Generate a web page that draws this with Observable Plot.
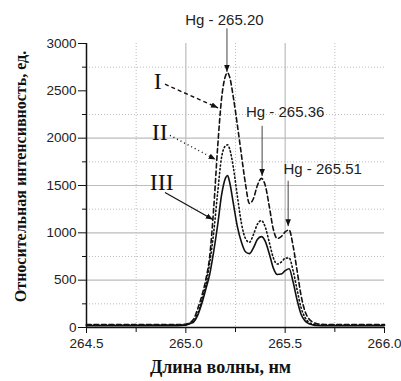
<!DOCTYPE html>
<html><head><meta charset="utf-8">
<script src="https://cdn.jsdelivr.net/npm/d3@7"></script>
<script src="https://cdn.jsdelivr.net/npm/@observablehq/plot@0.6"></script>
<style>body{margin:0;background:#fff}</style>
</head><body><div id="chart"></div>
<script>
// Wavelength, nm
const wavelength = [264.50, 264.80, 264.96, 265.00, 265.02, 265.04, 265.06, 265.08, 265.10, 265.12,
  265.14, 265.16, 265.18, 265.20, 265.21, 265.22, 265.24, 265.26, 265.28, 265.30,
  265.32, 265.34, 265.36, 265.38, 265.40, 265.42, 265.44, 265.46, 265.48, 265.50,
  265.52, 265.54, 265.56, 265.58, 265.60, 265.62, 265.64, 265.66, 265.70, 265.80, 266.00];
// Curve I (dashed)
const intensityI = [30, 30, 30, 35, 50, 90, 200, 330, 500, 750,
  1250, 1900, 2420, 2660, 2690, 2650, 2420, 2130, 1820, 1520,
  1310, 1360, 1500, 1575, 1500, 1280, 1040, 940, 960, 1010,
  1030, 860, 600, 340, 170, 90, 55, 40, 32, 30, 30];
// Curve II (dotted)
const intensityII = [25, 25, 25, 30, 45, 70, 150, 280, 440, 680,
  1000, 1420, 1800, 1920, 1930, 1890, 1680, 1380, 1100, 940,
  900, 980, 1090, 1130, 1060, 900, 740, 670, 690, 730,
  735, 600, 400, 210, 105, 55, 35, 28, 25, 25, 25];
// Curve III (solid)
const intensityIII = [20, 20, 20, 25, 40, 60, 130, 250, 400, 560,
  800, 1080, 1400, 1580, 1605, 1540, 1300, 1060, 900, 800,
  780, 840, 930, 960, 910, 780, 630, 560, 565, 600,
  620, 480, 290, 140, 70, 40, 28, 22, 20, 20, 20];

const xMajorTicks = [264.5, 265.0, 265.5, 266.0];
const xMinorTicks = [264.75, 265.25, 265.75];
const yMajorTicks = [0, 500, 1000, 1500, 2000, 2500, 3000];
const yMinorTicks = [250, 750, 1250, 1750, 2250, 2750];
const xGridSolid = [265.0, 265.5];
const yGridSolid = [500, 1000, 1500, 2000];

const peakLabels = ["Hg - 265.20", "Hg - 265.36", "Hg - 265.51"];
const curveLabels = ["I", "II", "III"];

// annotation placement (data units)
const peakAnn = [
  {label: peakLabels[0], tx: 265.194, ty: 3250, ax: 265.207, ay1: 3160, ay2: 2700},
  {label: peakLabels[1], tx: 265.50, ty: 2270, ax: 265.384, ay1: 2130, ay2: 1600},
  {label: peakLabels[2], tx: 265.689, ty: 1670, ax: 265.515, ay1: 1550, ay2: 1070}
];
const curveAnn = [
  {label: curveLabels[0], tx: 264.859, ty: 2600, x1: 264.895, y1: 2570, x2: 265.162, y2: 2320},
  {label: curveLabels[1], tx: 264.869, ty: 2060, x1: 264.92, y1: 2030, x2: 265.150, y2: 1775},
  {label: curveLabels[2], tx: 264.879, ty: 1532, x1: 264.895, y1: 1426, x2: 265.136, y2: 1141}
];

const rows = (vals) => wavelength.map((w, i) => ({w, v: vals[i]}));

const serif = "'Liberation Serif', 'Times New Roman', serif";
const sans = "'Liberation Sans', Arial, sans-serif";

const chart = Plot.plot({
  width: 401, height: 381,
  marginTop: 43, marginBottom: 54, marginLeft: 86, marginRight: 17,
  x: {domain: [264.5, 266.0]},
  y: {domain: [0, 3000]},
  style: {fontFamily: sans, fontSize: "13.5px", color: "#222", background: "#fff", overflow: "visible"},
  marks: [
    Plot.ruleY(yMinorTicks, {stroke: "#bdbdbd", strokeDasharray: "1,2"}),
    Plot.ruleX(xMinorTicks, {stroke: "#bdbdbd", strokeDasharray: "1,2"}),
    Plot.ruleY(yGridSolid, {stroke: "#bcbcbc", strokeWidth: 1.2}),
    Plot.ruleX(xGridSolid, {stroke: "#bcbcbc", strokeWidth: 1.2}),
    Plot.line(rows(intensityIII), {x: "w", y: "v", stroke: "#111", strokeWidth: 1.6, curve: "monotone-x"}),
    Plot.line(rows(intensityII), {x: "w", y: "v", stroke: "#111", strokeWidth: 1.6, strokeDasharray: "1.2,2.6", curve: "monotone-x"}),
    Plot.line(rows(intensityI), {x: "w", y: "v", stroke: "#111", strokeWidth: 1.6, strokeDasharray: "4.5,3", curve: "monotone-x"}),
    Plot.ruleX([264.5], {stroke: "#111", strokeWidth: 1.5}),
    Plot.ruleY([0], {stroke: "#111", strokeWidth: 1.5}),
    Plot.axisX(xMajorTicks, {tickSize: 6, tickPadding: 5, tickFormat: d => d.toFixed(1), label: null, stroke: "#111", fontSize: 13.5, fill: "#222"}),
    Plot.axisX(xMinorTicks, {tickSize: 5, tickFormat: () => "", label: null, stroke: "#111"}),
    Plot.axisY(yMajorTicks, {tickSize: 8, tickPadding: 2, tickFormat: d => String(d), label: null, stroke: "#111", fontSize: 13.5, fill: "#222"}),
    Plot.axisY(yMinorTicks, {tickSize: 4, tickFormat: () => "", label: null, stroke: "#111"}),
    // peak annotations
    Plot.link(peakAnn, {x1: "ax", x2: "ax", y1: "ay1", y2: "ay2", stroke: "#444", strokeWidth: 1}),
    Plot.text(peakAnn, {x: "tx", y: "ty", text: "label", fontSize: 15, fill: "#222", fontFamily: sans}),
    // curve labels
    Plot.text(curveAnn, {x: "tx", y: "ty", text: "label", fontSize: 24, fill: "#111", fontFamily: serif}),
    Plot.link([curveAnn[0]], {x1: "x1", y1: "y1", x2: "x2", y2: "y2", stroke: "#111", strokeWidth: 1.4, strokeDasharray: "4,3"}),
    Plot.link([curveAnn[1]], {x1: "x1", y1: "y1", x2: "x2", y2: "y2", stroke: "#111", strokeWidth: 1.4, strokeDasharray: "1,3"}),
    Plot.link([curveAnn[2]], {x1: "x1", y1: "y1", x2: "x2", y2: "y2", stroke: "#111", strokeWidth: 1.2}),
    // axis titles
    Plot.text(["Длина волны, нм"], {frameAnchor: "bottom", textAnchor: "middle", dy: 45, dx: -15, fontSize: 18, fontWeight: "bold", fontFamily: serif, fill: "#111"}),
    Plot.text(["Относительная интенсивность, ед."], {frameAnchor: "left", textAnchor: "middle", lineAnchor: "middle", rotate: -90, dx: -66, dy: -9, fontSize: 16, fontWeight: "bold", fontFamily: serif, fill: "#111"})
  ]
});

// filled arrowheads for link marks
const svg = d3.select(chart);
const defs = svg.insert("defs", ":first-child");
defs.append("marker").attr("id", "ahead").attr("viewBox", "0 0 10 10")
  .attr("refX", 10).attr("refY", 5).attr("markerWidth", 7).attr("markerHeight", 7)
  .attr("markerUnits", "userSpaceOnUse").attr("orient", "auto")
  .append("path").attr("d", "M0,1L10,5L0,9z").attr("fill", "#111").attr("stroke", "none");
svg.selectAll('g[aria-label="link"] path').attr("marker-end", "url(#ahead)");

document.getElementById("chart").appendChild(chart);
</script>
</body></html>
